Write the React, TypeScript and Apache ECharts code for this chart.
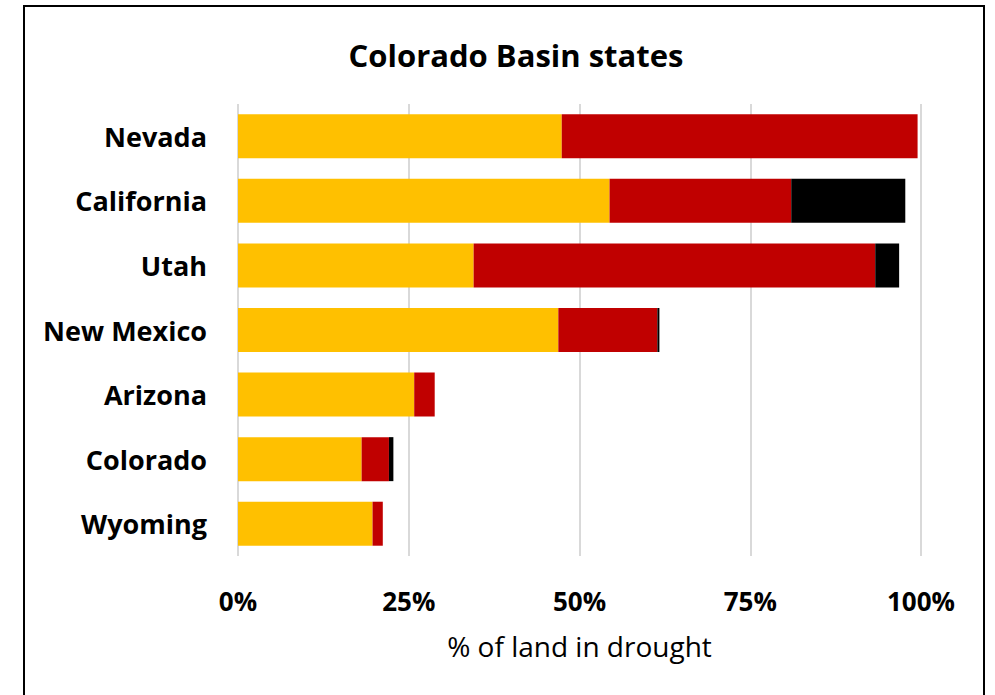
import React, { useEffect, useRef } from "react";
import * as echarts from "echarts";

const states = ["Nevada", "California", "Utah", "New Mexico", "Arizona", "Colorado", "Wyoming"];
const d2Values = [47.4, 54.4, 34.5, 46.9, 25.8, 18.1, 19.7];
const d3Values = [52.1, 26.6, 58.8, 14.5, 3.0, 4.0, 1.5];
const d4Values = [0, 16.7, 3.5, 0.3, 0, 0.65, 0];
const xTicks = [0, 25, 50, 75, 100];

const FONT = "'Open Sans', Lato, sans-serif";

export default function App() {
  const ref = useRef<HTMLDivElement>(null);
  useEffect(() => {
    if (!ref.current) return;
    const chart = echarts.init(ref.current, undefined, { renderer: "svg" });
    const mk = (name: string, data: number[], color: string) => ({
      name,
      type: "bar",
      stack: "total",
      data,
      barWidth: 44,
      itemStyle: { color },
    });
    chart.setOption({
      animation: false,
      backgroundColor: "#ffffff",
      title: {
        text: "Colorado Basin states",
        left: 511,
        top: 34,
        textAlign: "center",
        textStyle: { fontFamily: FONT, fontWeight: "bold", fontSize: 31, color: "#000" },
      },
      grid: { left: 238, right: 74, top: 104, bottom: 139, containLabel: false },
      xAxis: {
        type: "value",
        min: 0,
        max: 100,
        interval: 25,
        axisLine: { show: false },
        axisTick: { show: false },
        splitLine: { show: true, lineStyle: { color: "#d9d9d9", width: 2 } },
        axisLabel: {
          margin: 32,
          fontFamily: FONT,
          fontWeight: "bold",
          fontSize: 26,
          color: "#000",
          formatter: (v: number) => (xTicks.includes(v) ? v + "%" : ""),
        },
        name: "% of land in drought",
        nameLocation: "middle",
        nameGap: 76,
        nameTextStyle: { fontFamily: FONT, fontSize: 28, color: "#000" },
      },
      yAxis: {
        type: "category",
        data: states,
        inverse: true,
        axisLine: { show: false },
        axisTick: { show: false },
        axisLabel: {
          margin: 31,
          fontFamily: FONT,
          fontWeight: "bold",
          fontSize: 27,
          color: "#000",
        },
      },
      series: [
        mk("D2", d2Values, "#FFC000"),
        mk("D3", d3Values, "#C00000"),
        mk("D4", d4Values, "#000000"),
      ],
      graphic: [
        {
          type: "rect",
          shape: { x: 24, y: 6, width: 960, height: 700 },
          style: { fill: "none", stroke: "#000", lineWidth: 2 },
          silent: true,
        },
      ],
    });
    return () => chart.dispose();
  }, []);
  return (
    <div
      ref={ref}
      style={{ position: "absolute", left: 0, top: 0, width: 995, height: 695 }}
    />
  );
}
